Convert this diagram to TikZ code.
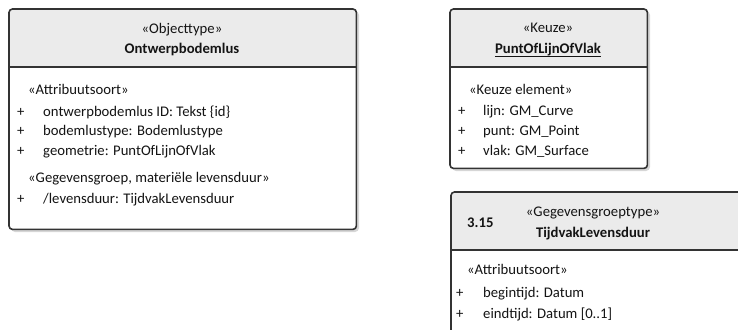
\documentclass[tikz,border=0pt]{standalone}
\usepackage{fontspec}
\setmainfont{Carlito}
\usetikzlibrary{calc}
\definecolor{edge}{HTML}{333333}
\definecolor{ink}{HTML}{141414}
\definecolor{headfill}{HTML}{EBEBEB}
\definecolor{shade}{HTML}{D6D6D6}
\tikzset{
  classbox/.style={rectangle, inner sep=0pt, fill=white, anchor=north west},
  border/.style={draw=edge, line width=1.6pt, rounded corners=3.5pt},
  divider/.style={draw=edge, line width=1.6pt},
  shadowbox/.style={fill=shade, rounded corners=4pt},
  lbl/.style={inner sep=0pt, text=ink, font=\fontsize{14.7}{17}\selectfont},
  title/.style={lbl, anchor=base},
  titlebold/.style={lbl, anchor=base, font=\fontsize{14.7}{17}\selectfont\bfseries},
  item/.style={lbl, anchor=base west},
  vis/.style={lbl, anchor=base west},
}
\begin{document}
\begin{tikzpicture}[x=1pt, y=-1pt]
\useasboundingbox (0,0) rectangle (738,329);
\clip (0,0) rectangle (738,329);

% ---------- Objecttype Ontwerpbodemlus ----------
\fill[shadowbox] (11,11) rectangle (359,232);
\node[classbox, minimum width=347pt, minimum height=220pt] (obj) at (9,9) {};
\coordinate (objdiv) at (9,67);
\begin{scope}
  \clip[rounded corners=3.5pt] (obj.north west) rectangle (obj.south east);
  \fill[headfill] (obj.north west) rectangle (obj.east |- objdiv);
\end{scope}
\draw[border] (obj.north west) rectangle (obj.south east);
\draw[divider] (objdiv) -- (obj.east |- objdiv);

\node[title] (objst) at (182,34) {«Objecttype»};
\node[titlebold] (objname) at (182,54) {Ontwerpbodemlus};
\node[item] (objg1) at (28,94) {«Attribuutsoort»};
\node[vis] (objp1) at (17,116) {+};
\node[item] (obja1) at (43,116) {ontwerpbodemlus ID: Tekst \{id\}};
\node[vis] (objp2) at (17,135) {+};
\node[item] (obja2) at (43,135) {bodemlustype: Bodemlustype};
\node[vis] (objp3) at (17,155) {+};
\node[item] (obja3) at (43,155) {geometrie: PuntOfLijnOfVlak};
\node[item] (objg2) at (28,182) {«Gegevensgroep, materiële levensduur»};
\node[vis] (objp4) at (17,203) {+};
\node[item] (obja4) at (43,203) {/levensduur: TijdvakLevensduur};

% ---------- Keuze PuntOfLijnOfVlak ----------
\fill[shadowbox] (452,11) rectangle (650,171);
\node[classbox, minimum width=197pt, minimum height=159pt] (keuze) at (450,9) {};
\coordinate (keuzediv) at (450,67);
\begin{scope}
  \clip[rounded corners=3.5pt] (keuze.north west) rectangle (keuze.south east);
  \fill[headfill] (keuze.north west) rectangle (keuze.east |- keuzediv);
\end{scope}
\draw[border] (keuze.north west) rectangle (keuze.south east);
\draw[divider] (keuzediv) -- (keuze.east |- keuzediv);

\node[title] (keuzest) at (548,33) {«Keuze»};
\node[titlebold] (keuzename) at (548,53) {PuntOfLijnOfVlak};
\draw[ink, line width=1.1pt] ($(keuzename.base west)+(0,3.5)$) -- ($(keuzename.base east)+(0,3.5)$);
\node[item] (keuzeg1) at (469,94) {«Keuze element»};
\node[vis] (keuzep1) at (458,115) {+};
\node[item] (keuzea1) at (483,115) {lijn: GM\_Curve};
\node[vis] (keuzep2) at (458,135) {+};
\node[item] (keuzea2) at (483,135) {punt: GM\_Point};
\node[vis] (keuzep3) at (458,155) {+};
\node[item] (keuzea3) at (483,155) {vlak: GM\_Surface};

% ---------- Gegevensgroeptype TijdvakLevensduur ----------
\fill[shadowbox] (453,194) rectangle (762,360);
\node[classbox, minimum width=310pt, minimum height=165pt] (tijd) at (451,192) {};
\coordinate (tijddiv) at (451,250);
\begin{scope}
  \clip[rounded corners=3.5pt] (tijd.north west) rectangle (tijd.south east);
  \fill[headfill] (tijd.north west) rectangle (tijd.east |- tijddiv);
\end{scope}
\draw[border] (tijd.north west) rectangle (tijd.south east);
\draw[divider] (tijddiv) -- (tijd.east |- tijddiv);

\node[lbl, anchor=base west, font=\fontsize{14.7}{17}\selectfont\bfseries] (tijdnum) at (467,227) {3.15};
\node[title] (tijdst) at (593,216) {«Gegevensgroeptype»};
\node[titlebold] (tijdname) at (593,237) {TijdvakLevensduur};
\node[item] (tijdg1) at (467,274) {«Attribuutsoort»};
\node[vis] (tijdp1) at (456,297) {+};
\node[item] (tijda1) at (483,297) {begintijd: Datum};
\node[vis] (tijdp2) at (456,318) {+};
\node[item] (tijda2) at (483,318) {eindtijd: Datum [0..1]};
\end{tikzpicture}
\end{document}
